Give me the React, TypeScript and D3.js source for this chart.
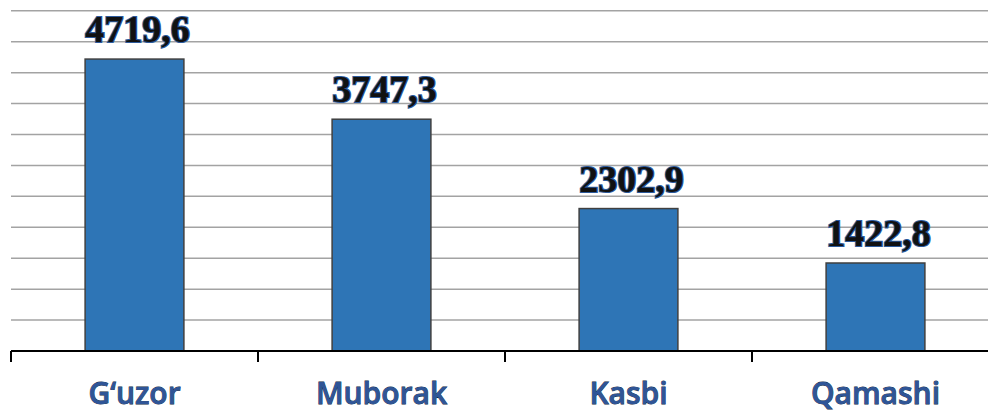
import React, { useRef, useEffect } from 'react';
import * as d3 from 'd3';

const DISTRICTS = ['G\u2018uzor', 'Muborak', 'Kasbi', 'Qamashi'];
const VALUES = [4719.6, 3747.3, 2302.9, 1422.8];
const LABELS = ['4719,6', '3747,3', '2302,9', '1422,8'];
const GRID_TICKS = [0, 500, 1000, 1500, 2000, 2500, 3000, 3500, 4000, 4500, 5000, 5500];

export default function App() {
  const svgRef = useRef<SVGSVGElement | null>(null);

  useEffect(() => {
    if (!svgRef.current) return;
    const width = 988;
    const svg = d3.select(svgRef.current);
    svg.selectAll('*').remove();

    const x = d3.scaleBand<string>().domain(DISTRICTS).range([11, 999]).padding(0);
    const y = d3.scaleLinear().domain([0, 5500]).range([351, 10.8]);
    const barW = x.bandwidth() * 0.4;

    // gridlines
    GRID_TICKS.filter(t => t > 0).forEach(t => {
      svg.append('line').attr('x1', 11).attr('x2', width).attr('y1', y(t)).attr('y2', y(t))
        .attr('stroke', '#a3a3a3').attr('stroke-width', 1.5);
    });

    // bars
    svg.selectAll('.bar').data(VALUES).enter().append('rect').attr('class', 'bar')
      .attr('x', (_, i) => (x(DISTRICTS[i]) as number) + (x.bandwidth() - barW) / 2)
      .attr('y', d => y(d)).attr('width', barW).attr('height', d => y(0) - y(d))
      .attr('fill', '#2e75b6').attr('stroke', '#404040').attr('stroke-width', 1.5);

    // axis
    svg.append('line').attr('x1', 11).attr('x2', width).attr('y1', y(0)).attr('y2', y(0))
      .attr('stroke', '#000').attr('stroke-width', 2);
    DISTRICTS.forEach(d => {
      const px = x(d) as number;
      svg.append('line').attr('x1', px).attr('x2', px).attr('y1', y(0)).attr('y2', y(0) + 11)
        .attr('stroke', '#000').attr('stroke-width', 2);
    });

    // value labels
    VALUES.forEach((v, i) => {
      svg.append('text')
        .attr('x', (x(DISTRICTS[i]) as number) + x.bandwidth() / 2 + 3).attr('y', y(v) - 17)
        .attr('text-anchor', 'middle').attr('font-family', '"Liberation Serif", serif')
        .attr('font-weight', 'bold').attr('font-size', '38px')
        .attr('fill', '#111').attr('stroke', '#2c5a9c').attr('stroke-width', 2.2)
        .style('paint-order', 'stroke')
        .text(LABELS[i]);
    });

    // category labels
    DISTRICTS.forEach(d => {
      svg.append('text')
        .attr('x', (x(d) as number) + x.bandwidth() / 2).attr('y', 404)
        .attr('text-anchor', 'middle').attr('font-family', '"Open Sans", sans-serif')
        .attr('font-weight', 600).attr('font-size', '30px')
        .attr('fill', '#2f5597').attr('stroke', '#0b1e3f').attr('stroke-width', 0.8)
        .style('paint-order', 'stroke')
        .text(d);
    });
  }, []);

  return (
    <svg ref={svgRef} width={988} height={412}
      style={{ position: 'fixed', left: 0, top: 0, background: '#fff', display: 'block' }} />
  );
}
